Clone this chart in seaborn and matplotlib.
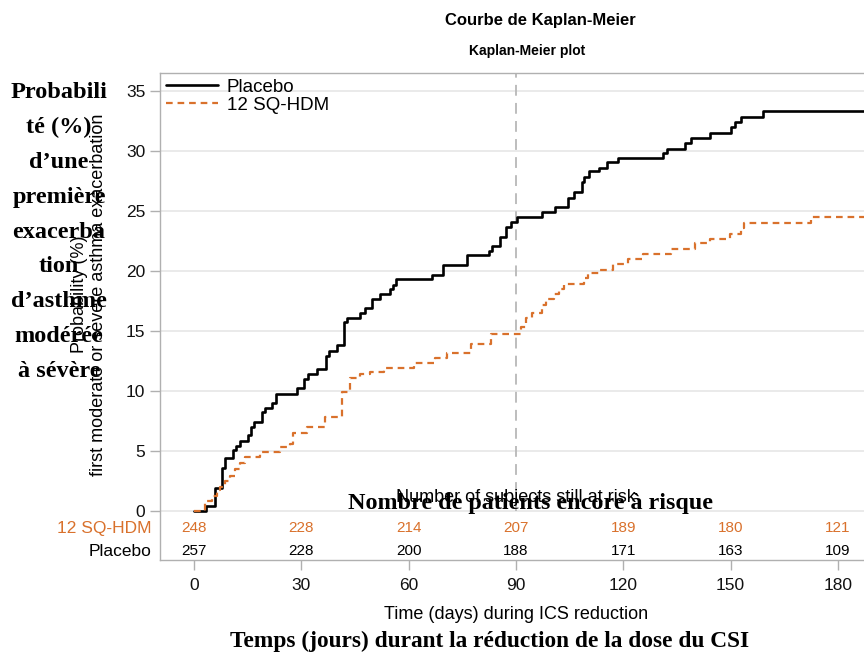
import matplotlib
matplotlib.use('Agg')
import matplotlib.pyplot as plt
import pandas as pd
import seaborn as sns

# Kaplan-Meier steps (day, cumulative probability %)
placebo_days = [0, 3.4, 5.9, 7.9, 8.8, 10.9, 11.8, 12.9, 15.2, 15.9, 16.8, 18.9, 19.9, 21.8, 23.0,
                28.9, 30.8, 32.0, 34.5, 36.9, 37.8, 40.0, 41.8, 42.8, 46.5, 47.9, 49.7, 51.9, 54.9,
                55.7, 56.6, 66.6, 69.6, 76.4, 82.4, 83.4, 85.4, 87.3, 88.5, 90.2, 97.4, 101.0, 104.4,
                106.2, 108.4, 109.0, 110.5, 113.3, 115.4, 118.4, 131.2, 132.1, 137.3, 138.9, 144.3,
                150.1, 151.3, 152.9, 159.0, 192.0]
placebo_prob = [0, 0.4, 1.9, 3.6, 4.4, 5.1, 5.4, 5.8, 6.3, 7.0, 7.4, 8.2, 8.6, 9.0, 9.75,
                10.25, 11.0, 11.4, 11.8, 12.9, 13.3, 13.8, 15.7, 16.1, 16.5, 16.9, 17.7, 18.05, 18.5,
                18.85, 19.3, 19.65, 20.5, 21.3, 21.7, 22.1, 22.8, 23.7, 24.1, 24.5, 24.9, 25.3, 26.1,
                26.6, 27.4, 27.8, 28.3, 28.6, 29.05, 29.4, 29.85, 30.2, 30.7, 31.1, 31.5,
                32.0, 32.4, 32.8, 33.3, 33.3]

hdm_days = [0, 3.0, 5.0, 6.3, 7.3, 8.7, 10.0, 11.5, 12.9, 14.3, 18.5, 24.0, 26.9, 27.8, 31.6,
            36.7, 41.5, 43.7, 46.5, 49.3, 53.0, 61.4, 67.5, 70.7, 77.3, 82.9, 91.3, 92.7, 94.6,
            97.4, 98.3, 100.6, 102.0, 103.4, 109.0, 110.0, 113.3, 117.0, 121.2, 125.4, 133.3,
            139.9, 144.1, 149.7, 152.9, 153.7, 172.5, 192.0]
hdm_prob = [0, 0.8, 1.25, 1.7, 2.0, 2.5, 2.9, 3.5, 4.0, 4.5, 4.9, 5.3, 5.6, 6.5, 7.0,
            7.85, 9.9, 11.1, 11.4, 11.55, 11.9, 12.3, 12.75, 13.15, 13.9, 14.7, 15.3, 16.1, 16.5,
            17.2, 17.7, 18.1, 18.5, 18.9, 19.4, 19.8, 20.1, 20.6, 21.0, 21.4, 21.85,
            22.35, 22.7, 23.1, 23.6, 24.0, 24.5, 24.5]

# number at risk table
risk_days = [0, 30, 60, 90, 120, 150, 180]
risk_hdm = [248, 228, 214, 207, 189, 180, 121]
risk_placebo = [257, 228, 200, 188, 171, 163, 109]

ORANGE = '#D9712C'
SERIF = ['Liberation Serif', 'DejaVu Serif']

sns.set_theme(style='whitegrid')
plt.rcParams['font.family'] = ['Liberation Sans', 'DejaVu Sans']
plt.rcParams['text.color'] = 'black'
plt.rcParams['axes.labelcolor'] = 'black'

fig = plt.figure(figsize=(8.64, 6.57), dpi=100)
ax = fig.add_axes([160 / 864, 1 - 560 / 657, 712 / 864, 487 / 657])

sns.lineplot(x=placebo_days, y=placebo_prob, drawstyle='steps-post', estimator=None,
             color='black', linewidth=1.9, label='Placebo', ax=ax)
sns.lineplot(x=hdm_days, y=hdm_prob, drawstyle='steps-post', estimator=None,
             color=ORANGE, linewidth=1.6, linestyle=(0, (3, 2.2)), label='12 SQ-HDM', ax=ax)

# reference line at day 90
ax.vlines(90, 0, 37, color='#B8B8B8', linewidth=1.3, linestyles=(0, (6, 4)), zorder=1)

ax.set_xlim(-9.5, 189.5)
ax.set_ylim(-4.1, 36.5)
ax.set_xticks(risk_days)
ax.set_yticks(range(0, 36, 5))
ax.grid(axis='x', visible=False)
ax.grid(axis='y', color='#E6E6E6', linewidth=1.2)
ax.set_facecolor('white')
for side in ['left', 'bottom', 'top']:
    ax.spines[side].set_color('#B0B0B0')
    ax.spines[side].set_linewidth(1.0)
ax.spines['right'].set_visible(False)
ax.tick_params(axis='both', length=7, width=1, color='#B0B0B0', labelsize=12.5,
               labelcolor='#111111', direction='out', bottom=True, left=True)
ax.tick_params(axis='x', pad=6)

ax.set_xlabel('Time (days) during ICS reduction', fontsize=13, labelpad=9)
ax.set_ylabel('Probability (%)\nfirst moderate or severe asthma exacerbation',
              fontsize=13, linespacing=1.15)
ax.yaxis.set_label_coords(-0.074, 0.545)

leg = ax.legend(loc='upper left', frameon=False, fontsize=13.5, handlelength=2.8,
                handletextpad=0.45, labelspacing=0.05, borderaxespad=0.1, borderpad=0.2)

# at-risk numbers
ax.text(90, 1.1, 'Number of subjects still at risk', ha='center', va='center', fontsize=13)
for d, a, b in zip(risk_days, risk_hdm, risk_placebo):
    ax.text(d, -1.45, str(a), ha='center', va='center', fontsize=11, color=ORANGE)
    ax.text(d, -3.35, str(b), ha='center', va='center', fontsize=11, color='black')
ax.text(-11.8, -1.45, '12 SQ-HDM', ha='right', va='center', fontsize=12.5, color=ORANGE)
ax.text(-11.8, -3.35, 'Placebo', ha='right', va='center', fontsize=12.5, color='black')

# titles
fig.text(540 / 864, 1 - 20 / 657, 'Courbe de Kaplan-Meier', ha='center', va='center',
         fontsize=12, fontweight='bold')
fig.text(527 / 864, 1 - 51 / 657, 'Kaplan-Meier plot', ha='center', va='center',
         fontsize=10, fontweight='bold')

# French overlay labels
fr_lines = ['Probabili', 'té (%)', 'd\u2019une', 'première', 'exacerba', 'tion',
            'd\u2019asthme', 'modérée', 'à sévère']
for i, line in enumerate(fr_lines):
    fig.text(59 / 864, 1 - (98 + 34.9 * i) / 657, line, ha='center', va='baseline',
             fontsize=17.5, fontweight='bold', family=SERIF)
fig.text(530 / 864, 1 - 509 / 657, 'Nombre de patients encore à risque', ha='center',
         va='baseline', fontsize=17.4, fontweight='bold', family=SERIF)
fig.text(490 / 864, 1 - 647 / 657, 'Temps (jours) durant la réduction de la dose du CSI',
         ha='center', va='baseline', fontsize=16.8, fontweight='bold', family=SERIF)

fig.savefig('out.png', dpi=100)
